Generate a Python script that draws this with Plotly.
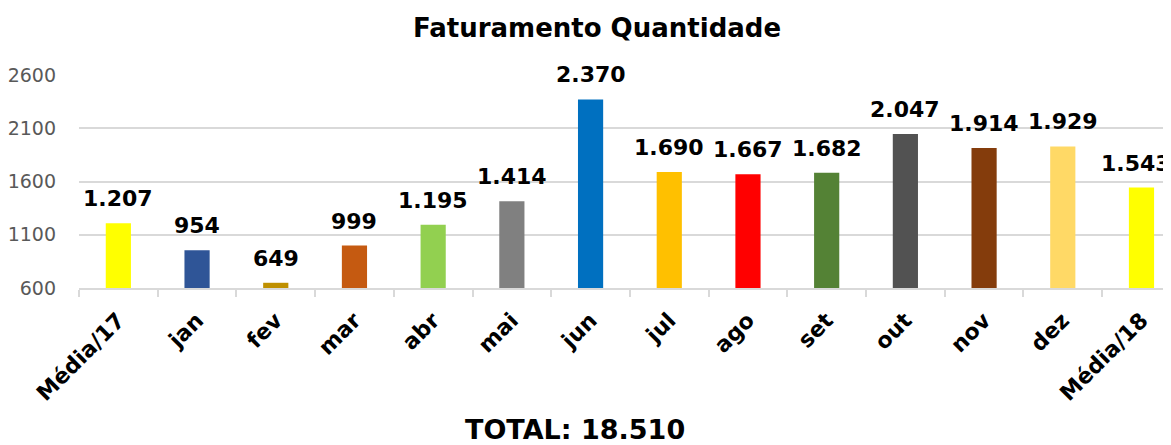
import plotly.graph_objects as go

categories = ["Média/17", "jan", "fev", "mar", "abr", "mai", "jun", "jul", "ago", "set", "out", "nov", "dez", "Média/18"]
values = [1207, 954, 649, 999, 1195, 1414, 2370, 1690, 1667, 1682, 2047, 1914, 1929, 1543]
colors = ["#FFFF00", "#2F5597", "#BF9000", "#C55A11", "#92D050", "#808080", "#0070C0",
          "#FFC000", "#FF0000", "#548235", "#525252", "#843C0C", "#FFD966", "#FFFF00"]
y_ticks = [600, 1100, 1600, 2100, 2600]
total_label = "TOTAL: 18.510"
title = "Faturamento Quantidade"

# page body has an 8px margin, so the figure is sized/positioned to compensate
OFF = 8
W, H = 1171 - OFF, 445 - OFF
L, R, T, B = 79 - OFF, 0, 75 - OFF, 445 - 288
PW, PH = W - L - R, H - T - B


def fmt(v):
    return f"{v:,}".replace(",", ".")


fig = go.Figure()
fig.add_trace(go.Bar(
    x=categories, y=[v - 600 for v in values], base=600,
    marker=dict(color=colors, line=dict(width=0)),
    width=0.32, hoverinfo="skip",
))

for i, (c, v) in enumerate(zip(categories, values)):
    fig.add_annotation(x=c, y=v, text="<b>" + fmt(v) + "</b>", showarrow=False, yanchor="bottom",
                       yshift=10, xshift=(-5 if i == len(categories) - 1 else 0),
                       font=dict(family="DejaVu Sans", size=22, color="#000000"),
                       xref="x", yref="y")

fig.add_annotation(x=(575 - 79) / PW, y=-(430 - 288) / PH, xref="paper", yref="paper",
                   yanchor="middle", text="<b>" + total_label + "</b>", showarrow=False,
                   font=dict(family="DejaVu Sans", size=27, color="#000000"))

fig.update_layout(
    width=W, height=H,
    margin=dict(l=L, r=R, t=T, b=B, autoexpand=False),
    paper_bgcolor="white", plot_bgcolor="white",
    title=dict(text="<b>" + title + "</b>", x=(597 - OFF) / W, xanchor="center",
               y=1 - (28 - OFF) / H, yanchor="middle",
               font=dict(family="DejaVu Sans", size=26, color="#000000")),
    showlegend=False,
    font=dict(family="DejaVu Sans"),
)

fig.update_xaxes(
    type="category", range=[-0.5, 13.375], automargin=False,
    tickangle=-45, tickfont=dict(family="DejaVu Sans", size=22, color="#000000", weight="bold"),
    showline=True, linecolor="#D9D9D9", linewidth=1.5,
    ticks="outside", ticklen=7, tickcolor="#D9D9D9", tickwidth=1.5, tickson="boundaries",
    showgrid=False, ticklabelstandoff=9,
)
fig.update_yaxes(
    range=[600, 2600], tickvals=y_ticks, ticktext=[str(t) for t in y_ticks], automargin=False,
    tickfont=dict(family="DejaVu Sans", size=19, color="#595959"),
    showgrid=True, gridcolor="#D9D9D9", gridwidth=1.5, zeroline=False, showline=False,
    ticklabelstandoff=22,
)

fig.write_html("out.html")
